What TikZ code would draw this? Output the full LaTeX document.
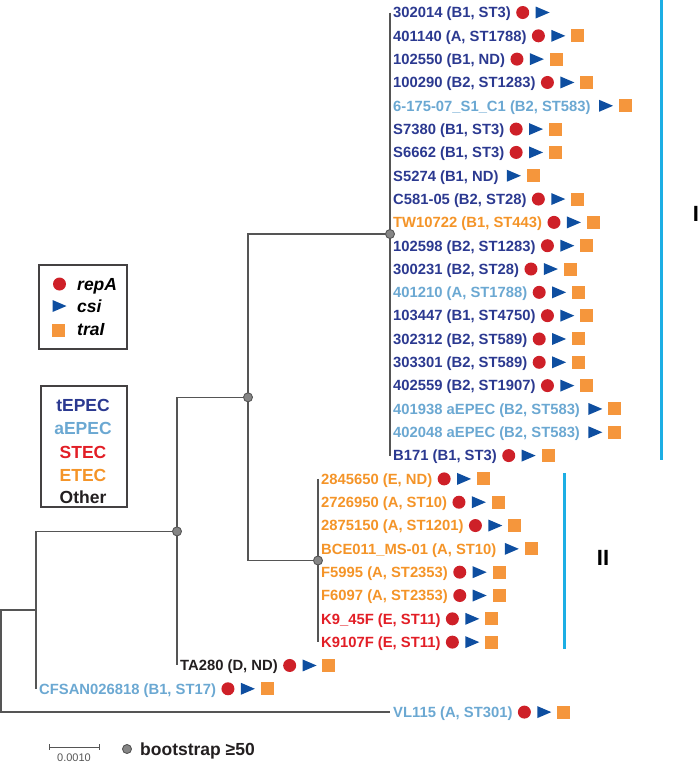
\documentclass[tikz,border=0pt]{standalone}
\usepackage{fontspec}
\setmainfont{Liberation Sans}
\usetikzlibrary{positioning}

\definecolor{tepec}{RGB}{43,57,144}
\definecolor{aepec}{RGB}{107,168,210}
\definecolor{stec}{RGB}{226,30,38}
\definecolor{etec}{RGB}{244,148,40}
\definecolor{other}{RGB}{35,31,32}
\definecolor{repred}{RGB}{206,32,40}
\definecolor{csiblue}{RGB}{14,78,160}
\definecolor{traorange}{RGB}{245,150,60}
\definecolor{cladebar}{RGB}{28,174,228}
\definecolor{treegray}{RGB}{85,85,85}

\tikzset{
  tip/.style={anchor=west,inner xsep=3pt,inner ysep=0pt,text height=10.6pt,text depth=0pt,
    font=\bfseries\fontsize{14.8}{16}\selectfont},
  repmark/.style={circle,fill=repred,inner sep=0pt,minimum size=13pt},
  csimark/.style={inner sep=0pt,minimum width=14pt,minimum height=12pt,
    path picture={\fill[csiblue] (path picture bounding box.north west)
      -- (path picture bounding box.east) -- (path picture bounding box.south west) -- cycle;}},
  tramark/.style={fill=traorange,inner sep=0pt,minimum size=13pt},
  branch/.style={treegray,line width=1.3pt},
  boot/.style={fill=gray!95,draw=treegray,line width=0.9pt},
  legtext/.style={inner sep=0pt,text height=12.5pt,text depth=0pt,
    font=\bfseries\fontsize{17.5}{20}\selectfont},
}

\begin{document}
\begin{tikzpicture}[x=1pt,y=-1pt]
\useasboundingbox (0,0) rectangle (700,764);

% tips with their genes
\foreach \i/\x/\col/\rep/\tra/\lab in {
1/390/tepec/1/0/{302014 (B1, ST3)},
2/390/tepec/1/1/{401140 (A, ST1788)},
3/390/tepec/1/1/{102550 (B1, ND)},
4/390/tepec/1/1/{100290 (B2, ST1283)},
5/390/aepec/0/1/{6-175-07\_S1\_C1 (B2, ST583)},
6/390/tepec/1/1/{S7380 (B1, ST3)},
7/390/tepec/1/1/{S6662 (B1, ST3)},
8/390/tepec/0/1/{S5274 (B1, ND)},
9/390/tepec/1/1/{C581-05 (B2, ST28)},
10/390/etec/1/1/{TW10722 (B1, ST443)},
11/390/tepec/1/1/{102598 (B2, ST1283)},
12/390/tepec/1/1/{300231 (B2, ST28)},
13/390/aepec/1/1/{401210 (A, ST1788)},
14/390/tepec/1/1/{103447 (B1, ST4750)},
15/390/tepec/1/1/{302312 (B2, ST589)},
16/390/tepec/1/1/{303301 (B2, ST589)},
17/390/tepec/1/1/{402559 (B2, ST1907)},
18/390/aepec/0/1/{401938 aEPEC (B2, ST583)},
19/390/aepec/0/1/{402048 aEPEC (B2, ST583)},
20/390/tepec/1/1/{B171 (B1, ST3)},
21/318/etec/1/1/{2845650 (E, ND)},
22/318/etec/1/1/{2726950 (A, ST10)},
23/318/etec/1/1/{2875150 (A, ST1201)},
24/318/etec/0/1/{BCE011\_MS-01 (A, ST10)},
25/318/etec/1/1/{F5995 (A, ST2353)},
26/318/etec/1/1/{F6097 (A, ST2353)},
27/318/stec/1/1/{K9\_45F (E, ST11)},
28/318/stec/1/1/{K9107F (E, ST11)},
29/177/other/1/1/{TA280 (D, ND)},
30/36/aepec/1/1/{CFSAN026818 (B1, ST17)},
31/390/aepec/1/1/{VL115 (A, ST301)}
}
{
\node[tip,text=\col] (t\i) at (\x,{12.5+(\i-1)*23.32}) {\lab};
\ifnum\rep=1
  \node[repmark,right=2pt of t\i] (c\i) {};
  \node[csimark,right=6pt of c\i] (a\i) {};
\else
  \node[csimark,right=5pt of t\i] (a\i) {};
\fi
\ifnum\tra=1
  \node[tramark,right=5.5pt of a\i] (s\i) {};
\fi
}

% tree
\coordinate (nI) at (390,234);
\coordinate (nII) at (318,560.5);
\coordinate (nA) at (248,397.3);
\coordinate (nB) at (177,531.4);
\coordinate (nC) at (36,610.1);
\coordinate (nR) at (1,661.1);

\draw[branch] (t1.west) -- (t20.west);
\draw[branch] (t21.west) -- (t28.west);
\draw[branch] (nA) |- (nI);
\draw[branch] (nA) |- (nII);
\draw[branch] (nB) |- (nA);
\draw[branch] (nB) |- (t29.west);
\draw[branch] (nC) |- (nB);
\draw[branch] (nC) |- (t30.west);
\draw[branch] (nR) |- (nC);
\draw[branch] (nR) |- (t31.west);

\foreach \n in {nI,nII,nA,nB}
{
\filldraw[boot] (\n) circle (4.5pt);
}

% clades
\draw[cladebar,line width=3pt] (661,0) -- (661,460);
\draw[cladebar,line width=3pt] (564,473) -- (564,649);
\node[font=\bfseries\fontsize{22}{24}\selectfont] (labI) at (696,214) {I};
\node[font=\bfseries\fontsize{22}{24}\selectfont] (labII) at (603,558) {II};

% gene legend
\draw[other!85,line width=1.4pt] (39,265) rectangle (127,349);
\node[repmark] (lrep) at (59.5,284) {};
\node[csimark] (lcsi) at (59.5,306) {};
\node[tramark] (ltra) at (58,330) {};
\node[legtext,anchor=west] (lrept) at (77,284) {\itshape repA};
\node[legtext,anchor=west] (lcsit) at (77,306) {\itshape csi};
\node[legtext,anchor=west] (ltrat) at (77,329) {\itshape traI};

% pathotype legend
\draw[other!85,line width=1.4pt] (41,386) rectangle (127,507);
\foreach \y/\col/\lab in {405/tepec/tEPEC,428/aepec/aEPEC,452/stec/STEC,475/etec/ETEC,497/other/Other}
{
\node[legtext,text=\col] (k\lab) at (83,\y) {\lab};
}

% scale and bootstrap
\draw[treegray,line width=0.8pt] (49,744) -- (49,750) (49,747) -- (99,747) (99,744) -- (99,750);
\node[font=\fontsize{11}{12}\selectfont,text=treegray] (scale) at (74,758) {0.0010};
\filldraw[boot] (127,749) circle (4.5pt);
\node[legtext,anchor=west,text=other] (bootlab) at (140,749) {bootstrap ≥50};

\end{tikzpicture}
\end{document}
